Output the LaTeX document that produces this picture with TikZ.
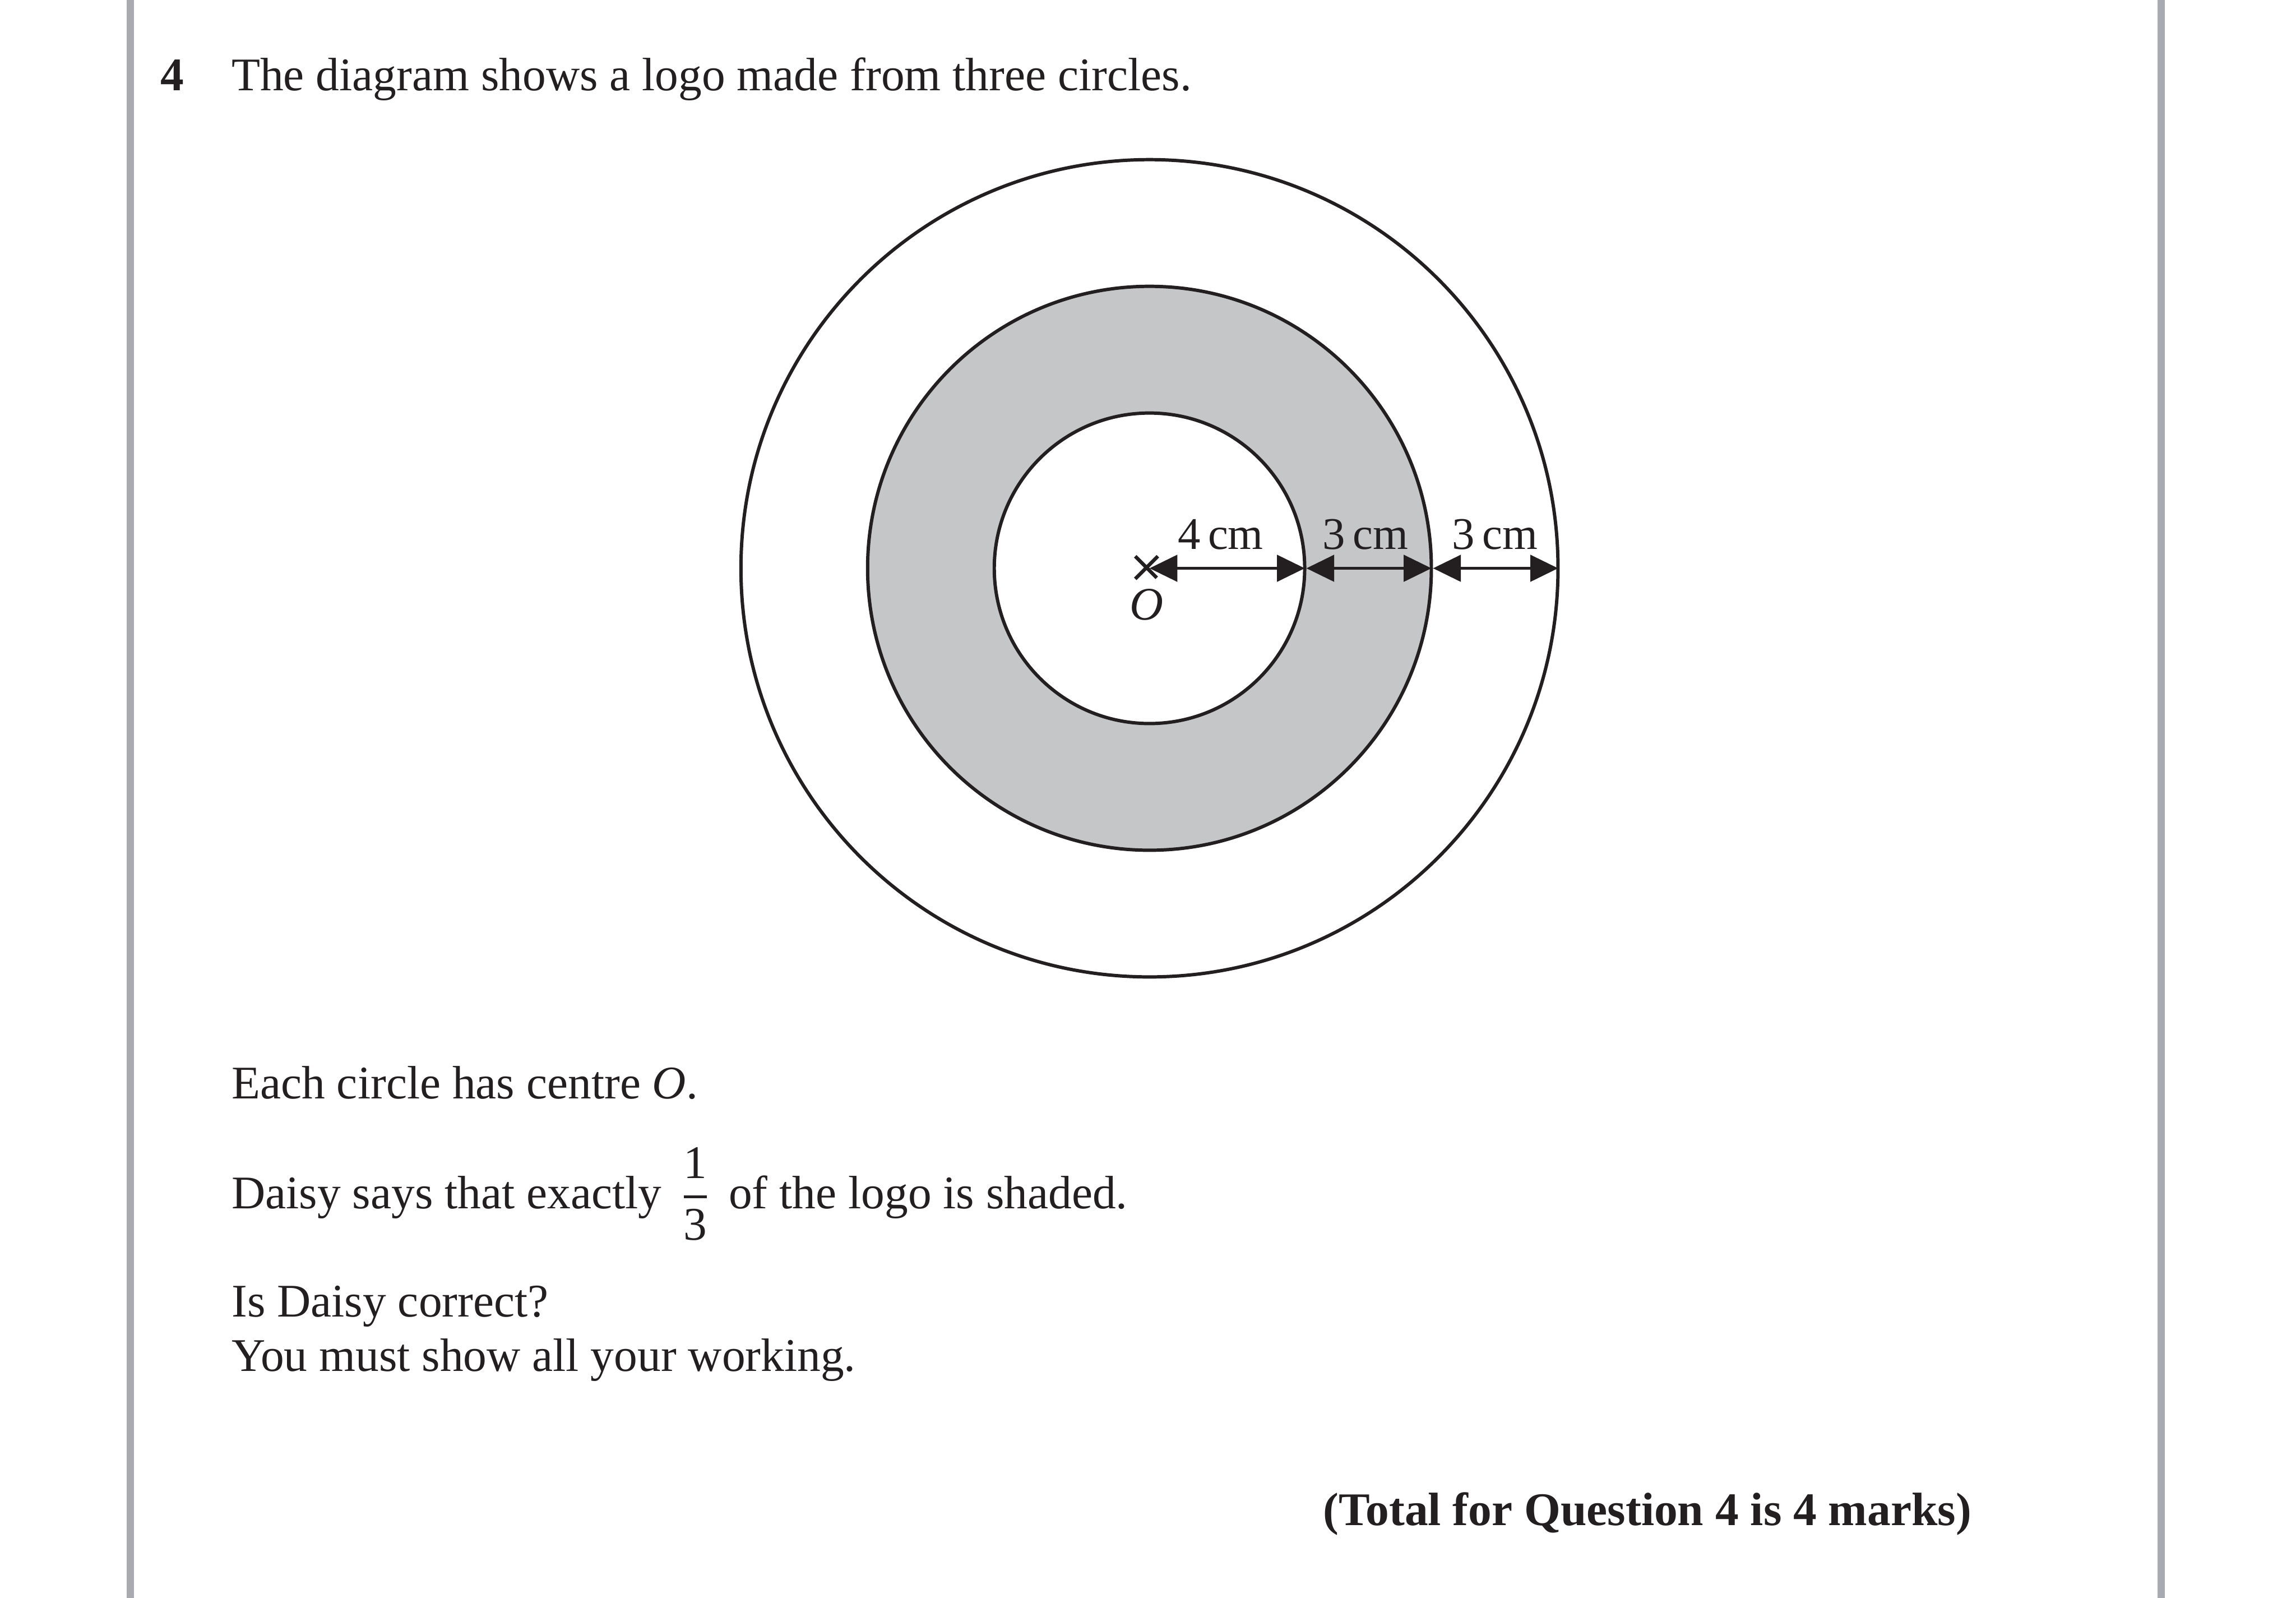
\documentclass[tikz,border=0pt]{standalone}
\usepackage{fontspec}
\usepackage{xcolor}
\usepackage{amsmath}
\setmainfont{Liberation Serif}
\usetikzlibrary{arrows.meta,shapes.misc}
\definecolor{logogray}{RGB}{196,198,200}
\definecolor{bargray}{RGB}{170,171,176}
\definecolor{inkblack}{RGB}{35,31,32}

\begin{document}
\begin{tikzpicture}[<->,>={Triangle[length=0.19cm,width=0.18cm]},shorten >=0.3pt,node distance=0.255cm,color=inkblack,
    ring node/.style={circle,draw,line width=0.65pt,inner sep=0pt,fill=white},
    line text/.style={anchor=base west,inner sep=0pt,font=\fontsize{9.09}{11}\selectfont},
    dim label/.style={anchor=base,inner sep=0pt,yshift=0.13cm,font=\fontsize{8.8}{11}\selectfont},
    side bar/.style={-,shorten >=0pt,draw=bargray,line width=0.05cm}]

            \useasboundingbox (0,0) rectangle (15.68,10.91);

            \coordinate (bar1a) at (0.89,0);
            \coordinate (bar1b) at (0.89,10.91);
            \coordinate (bar2a) at (14.76,0);
            \coordinate (bar2b) at (14.76,10.91);
            \draw[side bar] (bar1a) -- (bar1b);
            \draw[side bar] (bar2a) -- (bar2b);

            \node[line text] (num) at (1.09,10.29) {\textbf{4}};
            \node[line text] (intro) at (1.575,10.29) {The diagram shows a logo made from three circles.};

            \coordinate (centre) at (7.85,7.03);
            \node[ring node,minimum size=5.58cm] (outer) at (centre) {};
            \node[ring node,minimum size=3.85cm,fill=logogray] (middle) at (centre) {};
            \node[ring node,minimum size=2.12cm] (inner) at (centre) {};

            \node[cross out,draw,-,line width=0.7pt,minimum size=0.13cm,inner sep=0pt] (cross) at (7.83,7.035) {};
            \node[inner sep=0pt,font=\fontsize{9.05}{11}\selectfont] (olabel) [below of = cross] {\textit{O}};

            \path[line width=0.6pt]
                (centre) edge node[dim label,xshift=-0.05cm] (lab1) {4\,cm} (inner.east)
                (inner.east) edge node[dim label,xshift=-0.03cm] (lab2) {3\,cm} (middle.east)
                (middle.east) edge node[dim label,xshift=-0.01cm] (lab3) {3\,cm} (outer.east)
            ;

            \node[line text] (each) at (1.575,3.41) {Each circle has centre \textit{O}.};
            \node[line text] (daisy) at (1.575,2.66) {Daisy says that exactly};
            \node[line text] (frac) at (4.62,2.66) {$\displaystyle\genfrac{}{}{0.6pt}{}{\mathrm{1}}{\mathrm{3}}$};
            \node[line text] (rest) at (4.97,2.66) {of the logo is shaded.};
            \node[line text] (check) at (1.575,1.92) {Is Daisy correct?};
            \node[line text] (work) at (1.575,1.55) {You must show all your working.};
            \node[line text,anchor=base east] (total) at (13.47,0.495) {\textbf{(Total for Question 4 is 4 marks)}};
        \end{tikzpicture}
\end{document}
